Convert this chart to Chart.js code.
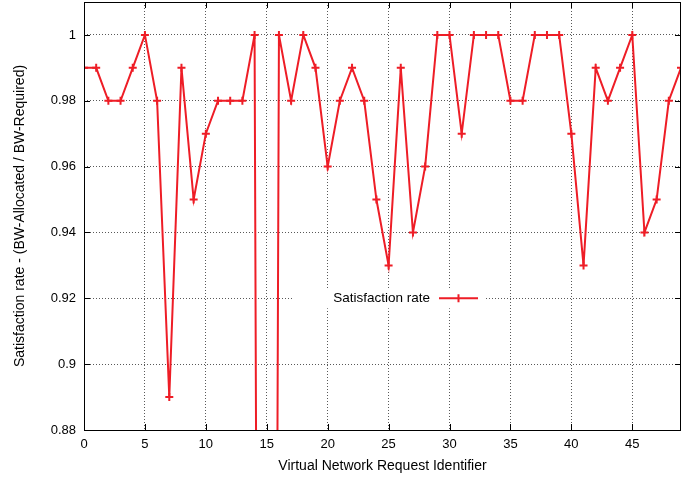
<!DOCTYPE html>
<html>
<head>
<meta charset="utf-8">
<script src="https://cdn.jsdelivr.net/npm/chart.js@4"></script>
<style>
  body { margin: 0; background: #fff; }
  #wrap { width: 697px; height: 478px; }
</style>
</head>
<body>
<div id="wrap"><canvas id="chart" width="697" height="478"></canvas></div>
<script>
// Virtual network request ids and their satisfaction rate
const requestIds = [];
for (let i = 0; i < 50; i++) requestIds.push(i);

const satisfaction = [
  0.99, 0.99, 0.98, 0.98, 0.99, 1.00, 0.98, 0.89, 0.99, 0.95,
  0.97, 0.98, 0.98, 0.98, 1.00, 0.00, 1.00, 0.98, 1.00, 0.99,
  0.96, 0.98, 0.99, 0.98, 0.95, 0.93, 0.99, 0.94, 0.96, 1.00,
  1.00, 0.97, 1.00, 1.00, 1.00, 0.98, 0.98, 1.00, 1.00, 1.00,
  0.97, 0.93, 0.99, 0.98, 0.99, 1.00, 0.94, 0.95, 0.98, 0.99
];

const xTicks = [0, 5, 10, 15, 20, 25, 30, 35, 40, 45];
const yTicks = [0.88, 0.9, 0.92, 0.94, 0.96, 0.98, 1];

const seriesLabel = 'Satisfaction rate';
const lineColor = '#ee1d26';
const fontFamily = '"Liberation Sans", Arial, Helvetica, sans-serif';

// frame + inward ticks on all four sides (gnuplot look)
const framePlugin = {
  id: 'frame',
  afterDraw(chart) {
    const { ctx, chartArea: a, scales } = chart;
    ctx.save();
    ctx.strokeStyle = '#000';
    ctx.lineWidth = 1;
    ctx.beginPath();
    xTicks.forEach((v) => {
      const x = Math.round(scales.x.getPixelForValue(v)) + 0.5;
      ctx.moveTo(x, a.bottom); ctx.lineTo(x, a.bottom - 6);
      ctx.moveTo(x, a.top); ctx.lineTo(x, a.top + 6);
    });
    yTicks.forEach((v) => {
      const y = Math.round(scales.y.getPixelForValue(v)) + 0.5;
      ctx.moveTo(a.left, y); ctx.lineTo(a.left + 6, y);
      ctx.moveTo(a.right, y); ctx.lineTo(a.right - 6, y);
    });
    ctx.stroke();
    ctx.strokeRect(a.left + 0.5, a.top + 0.5, a.right - a.left - 1, a.bottom - a.top);
    ctx.restore();
  }
};

// key drawn inside the plot, like gnuplot "set key"
const keyPlugin = {
  id: 'key',
  afterDatasetsDraw(chart) {
    const { ctx, chartArea: a, scales } = chart;
    const y = scales.y.getPixelForValue(0.92);
    const textRight = a.left + 346;
    ctx.save();
    ctx.fillStyle = '#fff';
    ctx.fillRect(a.left + 208, y - 10, 193, 20);
    ctx.fillStyle = '#000';
    ctx.font = '13.5px ' + fontFamily;
    ctx.textAlign = 'right';
    ctx.textBaseline = 'middle';
    ctx.fillText(seriesLabel, textRight, y);
    ctx.strokeStyle = lineColor;
    ctx.lineWidth = 2;
    ctx.beginPath();
    ctx.moveTo(textRight + 9, y);
    ctx.lineTo(textRight + 48, y);
    ctx.moveTo(textRight + 28.5, y - 4);
    ctx.lineTo(textRight + 28.5, y + 4);
    ctx.stroke();
    ctx.restore();
  }
};

const tickFont = { family: fontFamily, size: 13 };
const titleFont = { family: fontFamily, size: 14 };
const gridStyle = {
  color: 'rgba(0,0,0,0.65)',
  lineWidth: 1,
  drawTicks: false
};

new Chart(document.getElementById('chart'), {
  type: 'line',
  data: {
    labels: requestIds,
    datasets: [{
      label: seriesLabel,
      data: requestIds.map((id, i) => ({ x: id, y: satisfaction[i] })),
      borderColor: lineColor,
      backgroundColor: lineColor,
      borderWidth: 2,
      pointStyle: 'cross',
      pointRadius: 4,
      pointBorderWidth: 2,
      pointHoverRadius: 4,
      tension: 0,
      fill: false
    }]
  },
  options: {
    responsive: false,
    animation: false,
    layout: { autoPadding: false, padding: { top: 2, right: 16, left: 0, bottom: 0 } },
    plugins: {
      legend: { display: false },
      tooltip: { enabled: false }
    },
    scales: {
      x: {
        type: 'linear',
        min: 0,
        max: 49,
        afterBuildTicks: (s) => { s.ticks = xTicks.map((v) => ({ value: v })); },
        afterFit: (s) => { s.height = 48; s.paddingLeft = 0; s.paddingRight = 0; },
        ticks: { font: tickFont, color: '#000', padding: 7, maxRotation: 0, autoSkip: false },
        grid: gridStyle,
        border: { display: false, dash: [1, 2] },
        title: {
          display: true,
          text: 'Virtual Network Request Identifier',
          font: titleFont,
          color: '#000',
          padding: { top: 0, bottom: 3 }
        }
      },
      y: {
        min: 0.88,
        max: 1.01,
        afterBuildTicks: (s) => { s.ticks = yTicks.map((v) => ({ value: v })); },
        afterFit: (s) => { s.width = 84; s.paddingTop = 0; s.paddingBottom = 0; },
        ticks: { font: tickFont, color: '#000', padding: 8, callback: (v) => String(v) },
        grid: gridStyle,
        border: { display: false, dash: [1, 2] },
        title: {
          display: true,
          text: 'Satisfaction rate - (BW-Allocated / BW-Required)',
          font: titleFont,
          color: '#000',
          padding: { top: 12, bottom: 0 }
        }
      }
    }
  },
  plugins: [keyPlugin, framePlugin]
});
</script>
</body>
</html>
